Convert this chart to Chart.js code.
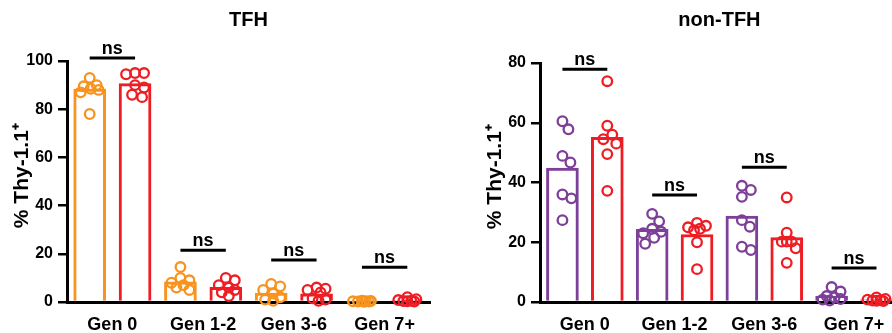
<!DOCTYPE html>
<html>
<head>
<meta charset="utf-8">
<script src="https://cdn.jsdelivr.net/npm/chart.js@4.4.1/dist/chart.umd.min.js"></script>
<style>
  html, body { margin: 0; padding: 0; background: #fff; overflow: hidden; }
  body { width: 892px; height: 333px; position: relative; }
  .panel { position: absolute; top: 0; height: 333px; }
  #tfh { left: 0; width: 446px; }
  #nontfh { left: 446px; width: 460px; }
</style>
</head>
<body>
<div class="panel" id="tfh"><canvas id="c1"></canvas></div>
<div class="panel" id="nontfh"><canvas id="c2"></canvas></div>
<script>
const generations = ['Gen 0', 'Gen 1-2', 'Gen 3-6', 'Gen 7+'];
const yTitle = '  % Thy-1.1\u207A';

// TFH panel (% Thy-1.1+, one value per mouse)
const tfhCtrl = [
  [93, 90, 89.5, 88.5, 88, 87, 78],
  [14.5, 10, 9, 8, 7, 6, 5],
  [7.5, 6.5, 5, 3.5, 2, 1, 0.5],
  [0.5, 0.4, 0.3, 0.3, 0.2, 0.2, 0.1]
];
const tfhKO = [
  [95, 95, 94.5, 90, 89, 86, 85],
  [10, 9, 7, 6, 5, 4, 2.5],
  [6, 5.5, 5, 4, 1.5, 1, 0.5],
  [2, 1.2, 0.8, 0.5, 0.3, 0.2, 0.4]
];
const tfhCtrlBar = [88.3, 8.4, 3.7, 0.3];
const tfhKOBar = [90.6, 6.1, 3.4, 0.6];
const tfhNs = [101.2, 21.5, 17.4, 14.4];

// non-TFH panel
const nonCtrl = [
  [60.5, 57.8, 48.9, 46.7, 36, 34.7, 27.4],
  [29.5, 27, 24.5, 23.5, 23, 21.5, 19.5],
  [38.9, 37.5, 35.2, 27.4, 25.2, 18.5, 17.4],
  [5, 3.5, 2, 1.5, 1, 0.8, 0.5]
];
const nonKO = [
  [73.9, 59, 56, 54.5, 53, 49.5, 37.2],
  [26.5, 25.5, 25, 24.5, 24, 20, 11],
  [35, 23.2, 20.2, 20.2, 20.2, 18, 13.1],
  [1.5, 1, 0.8, 0.6, 0.5, 0.4, 0.3]
];
const nonCtrlBar = [44.8, 24.3, 28.8, 2];
const nonKOBar = [55.1, 22.6, 21.6, 0.7];
const nonNs = [77.9, 35.8, 45.1, 11.4];

const FONT = '"Liberation Sans", Arial, Helvetica, sans-serif';
const ORANGE = '#F7931E';
const RED = '#EE1D24';
const PURPLE = '#7D3F98';

// spread overlapping points sideways (pixels), like a beeswarm
function swarm(values, pxPerUnit) {
  const order = values.map((v, i) => i).sort((a, b) => values[b] - values[a]);
  const placed = [];
  const offs = new Array(values.length).fill(0);
  order.forEach(i => {
    const y = values[i] * pxPerUnit;
    let best = 0, bestD = -1;
    for (let k = 0; k <= 18; k++) {
      const off = (k % 2 ? 1 : -1) * Math.ceil(k / 2);
      const d = Math.min(Infinity, ...placed.map(p => Math.hypot(p.x - off, p.y - y)));
      if (d >= 10) { best = off; bestD = d; break; }
      if (d > bestD) { best = off; bestD = d; }
    }
    placed.push({ x: best, y: y });
    offs[i] = best;
  });
  return offs;
}

function points(groups, side, pxPerUnit, catPx) {
  return groups.flatMap((vals, g) =>
    swarm(vals, pxPerUnit).map((off, j) => ({ x: g + side + off / catPx, y: vals[j] })));
}

const nsPlugin = {
  id: 'nsBars',
  afterDatasetsDraw(chart, args, opts) {
    const ctx = chart.ctx;
    const xs = chart.scales.xp, ys = chart.scales.y;
    ctx.save();
    ctx.strokeStyle = '#000';
    ctx.fillStyle = '#000';
    ctx.lineWidth = 3;
    ctx.font = 'bold 18px ' + FONT;
    ctx.textAlign = 'center';
    ctx.textBaseline = 'alphabetic';
    opts.levels.forEach((lvl, i) => {
      const x1 = xs.getPixelForValue(i - 0.25);
      const x2 = xs.getPixelForValue(i + 0.25);
      const y = ys.getPixelForValue(lvl);
      ctx.beginPath();
      ctx.moveTo(x1, y);
      ctx.lineTo(x2, y);
      ctx.stroke();
      ctx.fillText('ns', (x1 + x2) / 2, y - 4);
    });
    ctx.restore();
  }
};

function makePanel(id, p) {
  const pxPerUnit = p.plotH / p.yMax;
  const barSet = (vals, side, color) => ({
    type: 'bar', data: vals.map((v, g) => ({ x: g + side, y: v })),
    xAxisID: 'xp', yAxisID: 'y', grouped: false, barThickness: 32,
    borderColor: color, backgroundColor: '#fff', borderWidth: 3, order: 1
  });
  const dotSet = (groups, side, color) => ({
    type: 'scatter', data: points(groups, side, pxPerUnit, p.catPx),
    xAxisID: 'xp', yAxisID: 'y', borderColor: color, backgroundColor: 'rgba(0,0,0,0)',
    pointRadius: 4.8, pointBorderWidth: 2.3, borderWidth: 2.3, pointHoverRadius: 4.8,
    order: 0, clip: false
  });
  return new Chart(document.getElementById(id), {
    type: 'bar',
    data: {
      labels: generations,
      datasets: [
        dotSet(p.ctrl, -0.25, p.color),
        dotSet(p.ko, 0.25, RED),
        barSet(p.ctrlBar, -0.25, p.color),
        barSet(p.koBar, 0.25, RED)
      ]
    },
    plugins: [nsPlugin],
    options: {
      responsive: true,
      maintainAspectRatio: false,
      animation: false,
      layout: { padding: { left: p.padLeft, right: p.padRight, top: 0, bottom: 0 } },
      plugins: {
        legend: { display: false },
        tooltip: { enabled: false },
        title: {
          display: true, text: p.title, color: '#000', fullSize: false,
          font: { family: FONT, size: 20, weight: 'bold' },
          padding: { top: 8, bottom: p.titleGap }
        },
        nsBars: { levels: p.ns }
      },
      scales: {
        x: {
          type: 'category', offset: true,
          grid: { display: false },
          border: { display: true, color: '#000', width: 3 },
          ticks: { color: '#000', font: { family: FONT, size: 18, weight: 'bold' }, padding: 4, maxRotation: 0, autoSkip: false },
          afterFit: s => { s.height = 31; }
        },
        xp: { type: 'linear', display: false, offset: false, min: -0.5, max: 3.5, ticks: { stepSize: 1 } },
        y: {
          min: 0, max: p.yMax,
          ticks: { stepSize: 20, color: '#000', font: { family: FONT, size: 16, weight: 'bold' }, padding: 5 },
          grid: { drawOnChartArea: false, drawTicks: true, tickLength: 9, color: '#000', lineWidth: 2.5 },
          border: { display: true, color: '#000', width: 3 },
          title: {
            display: true, text: yTitle, color: '#000',
            font: { family: FONT, size: 21, weight: 'bold' },
            padding: { top: 10, bottom: 0 }
          },
          afterFit: s => { s.width = 67; }
        }
      }
    }
  });
}

makePanel('c1', {
  title: 'TFH', color: ORANGE, yMax: 100, plotH: 241, catPx: 90.75,
  ctrl: tfhCtrl, ko: tfhKO, ctrlBar: tfhCtrlBar, koBar: tfhKOBar, ns: tfhNs,
  padLeft: 0, padRight: 16, titleGap: 29
});
makePanel('c2', {
  title: 'non-TFH', color: PURPLE, yMax: 80, plotH: 239, catPx: 90,
  ctrl: nonCtrl, ko: nonKO, ctrlBar: nonCtrlBar, koBar: nonKOBar, ns: nonNs,
  padLeft: 27, padRight: 6, titleGap: 31
});
</script>
</body>
</html>
